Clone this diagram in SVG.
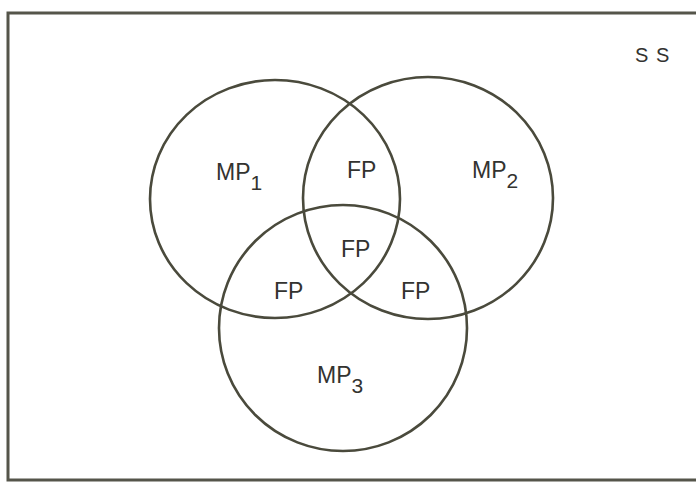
<svg xmlns="http://www.w3.org/2000/svg" width="696" height="486" viewBox="0 0 696 486">
<style>
.ring{fill:none;stroke:#4a4a3c;stroke-width:2.6}
.frame{fill:none;stroke:#55554a;stroke-width:3}
.lbl{font-family:"Liberation Sans",Arial,sans-serif;font-size:23px;fill:#333330}
.sub{font-size:21px}
</style>
<rect width="696" height="486" fill="#ffffff"/>
<g id="frame">
<path class="frame" d="M696 13 H8 V480 H696"/>
</g>
<g id="mp1">
<ellipse class="ring" cx="275" cy="199" rx="125" ry="119"/>
<text class="lbl" x="216" y="180">MP<tspan class="sub" dy="10">1</tspan></text>
</g>
<g id="mp2">
<ellipse class="ring" cx="428" cy="198" rx="125" ry="121"/>
<text class="lbl" x="472" y="178">MP<tspan class="sub" dy="10">2</tspan></text>
</g>
<g id="mp3">
<ellipse class="ring" cx="343" cy="328" rx="124" ry="123"/>
<text class="lbl" x="317" y="383">MP<tspan class="sub" dy="10">3</tspan></text>
</g>
<g id="fp12"><text class="lbl" x="347" y="178">FP</text></g>
<g id="fp123"><text class="lbl" x="341" y="257">FP</text></g>
<g id="fp13"><text class="lbl" x="274" y="299">FP</text></g>
<g id="fp23"><text class="lbl" x="401" y="299">FP</text></g>
<g id="ss"><text class="lbl" x="635" y="62" style="font-size:20px;letter-spacing:1px">S S</text></g>
<g id="connectors"/>
</svg>
